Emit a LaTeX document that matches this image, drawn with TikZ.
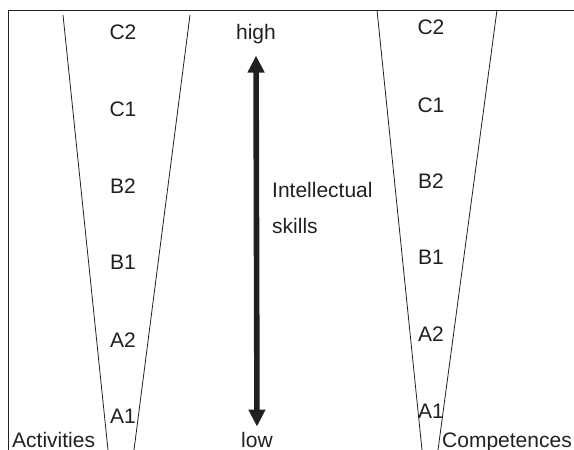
\documentclass[tikz,border=0pt]{standalone}
\usepackage{fontspec}
\setmainfont{Liberation Sans}
\usepackage{xcolor}
\usetikzlibrary{arrows.meta}
\definecolor{inkgray}{RGB}{35,31,32}

\begin{document}
\begin{tikzpicture}[x=1pt,y=-1pt,font=\fontsize{21}{25}\selectfont,inkgray,
    lab/.style={anchor=base,inner sep=0pt},
    thinline/.style={line width=0.8pt}]
  \useasboundingbox (0,0) rectangle (574,450);
  % frame
  \draw[thinline] (8,450)--(8,10)--(574,10);
  % the two funnels
  \draw[thinline] (63,15)--(108,450);
  \draw[thinline] (190,15)--(134,450);
  \draw[thinline] (377,10)--(422,450);
  \draw[thinline] (497,10)--(438,450);
  % levels
  \foreach \lab/\yl/\yr in {C2/39/34,C1/116/112,B2/193/188,B1/269/264,A2/347/341,A1/423/418}
    {\node[lab] (act\lab) at (123,\yl) {\lab};
     \node[lab] (comp\lab) at (431,\yr) {\lab};}
  \node[lab,anchor=base west] (activities) at (12,447) {Activities};
  \node[lab,anchor=base west] (competences) at (442,447) {Competences};
  % skill axis
  \node[lab] (high) at (256,39) {high};
  \node[lab] (low) at (257,447) {low};
  \node[lab,anchor=base west] (intel) at (272,197) {Intellectual};
  \node[lab,anchor=base west] (skills) at (272,233) {skills};
  \draw[line width=5.6pt,{Triangle[width=16pt,length=17pt]}-{Triangle[width=16pt,length=17pt]},
        shorten <=12pt,shorten >=5pt] (high.south) -- (low.north);
\end{tikzpicture}
\end{document}
